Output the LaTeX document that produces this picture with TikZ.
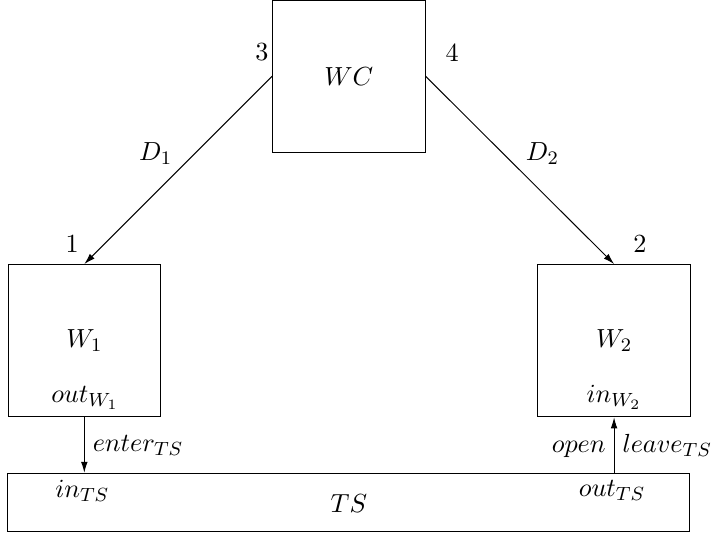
\documentclass[tikz,border=0pt]{standalone}
\usetikzlibrary{calc, arrows.meta}
\usepackage{amsmath}

\begin{document}
\begin{tikzpicture}[>={Latex[length=4.6pt, width=2.8pt]},
    every node/.style={font=\fontsize{10.95}{13}\selectfont},
    box/.style={draw, rectangle, inner sep=0pt},
    port/.style={inner sep=1pt}]
        % Parameters
        \def\side{2.24} % box side
        \def\tsw{10.03} % width of TS
        \def\tsh{0.85} % height of TS

        \useasboundingbox (0,0) rectangle (10.47,7.84);

        % Boxes
        \node[box, minimum width=\side cm, minimum height=\side cm] (WC) at (5.13,6.72) {$WC$};
        \node[box, minimum width=\side cm, minimum height=\side cm] (W1) at (1.24,2.83) {$W_1$};
        \node[box, minimum width=\side cm, minimum height=\side cm] (W2) at (9.03,2.83) {$W_2$};
        \node[box, minimum width=\tsw cm, minimum height=\tsh cm] (TS) at (5.13,0.455) {};
        \node (TSlabel) at ($(TS.center)+(0,-0.02)$) {$TS$};

        % Ports
        \node[port] (p3) at (3.85,7.07) {3};
        \node[port] (p4) at (6.65,7.07) {4};
        \node[port] (p1) at (1.06,4.26) {1};
        \node[port] (p2) at (9.41,4.26) {2};
        \node (outW1) at (1.25,1.99) {$out_{W_1}$};
        \node (inW2) at (9.03,2.00) {$in_{W_2}$};
        \node (inTS) at (1.21,0.62) {$in_{TS}$};
        \node (outTS) at (9.00,0.63) {$out_{TS}$};

        % Channels
        \draw[->] (WC.west) -- (W1.north) node[midway, above left=-1pt] (D1) {$D_1$};
        \draw[->] (WC.east) -- (W2.north) node[midway, above right=-1pt] (D2) {$D_2$};

        % Train
        \draw[->] (W1.south) -- (TS.north -| W1.south) node[midway, right] (enter) {$enter_{TS}$};
        \draw[->] (TS.north -| W2.south) -- (W2.south)
            node[midway, right] (leave) {$leave_{TS}$}
            node[midway, left, yshift=-2pt] (open) {$open$};

    \end{tikzpicture}
\end{document}
